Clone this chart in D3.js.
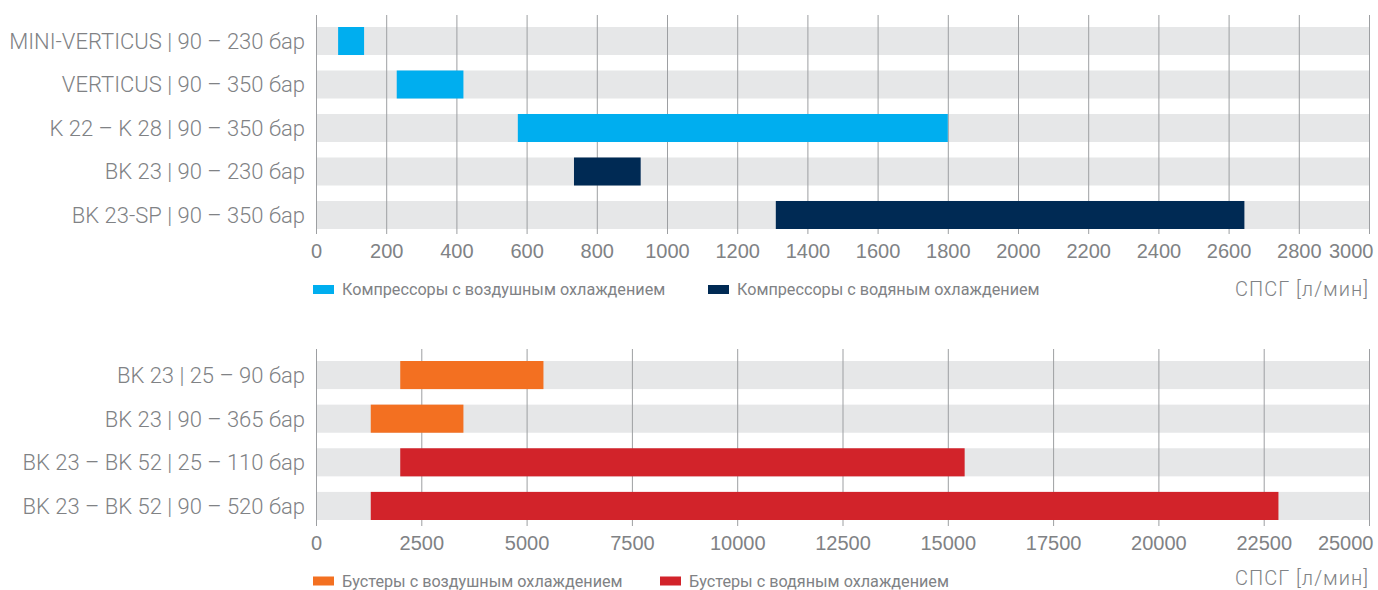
<!DOCTYPE html>
<html>
<head>
<meta charset="utf-8">
<script src="https://cdn.jsdelivr.net/npm/d3@7"></script>
<style>
  body { margin: 0; background: #fff; }
  svg { display: block; font-family: Roboto, "Open Sans", sans-serif; }
</style>
</head>
<body>
<script>
var width = 1378, height = 590;

// compressors (top panel)
var compCategories = ["MINI-VERTICUS | 90 – 230 бар", "VERTICUS | 90 – 350 бар", "K 22 – K 28 | 90 – 350 бар", "BK 23 | 90 – 230 бар", "BK 23-SP | 90 – 350 бар"];
var compStart = [63, 230, 575, 735, 1310];
var compEnd = [137, 420, 1800, 925, 2645];
var compType = ["air", "air", "air", "water", "water"];
var compTicks = d3.range(0, 3001, 200);
var compLegend = ["Компрессоры с воздушным охлаждением", "Компрессоры с водяным охлаждением"];

// boosters (bottom panel)
var boostCategories = ["BK 23 | 25 – 90 бар", "BK 23 | 90 – 365 бар", "BK 23 – BK 52 | 25 – 110 бар", "BK 23 – BK 52 | 90 – 520 бар"];
var boostStart = [2000, 1300, 2000, 1300];
var boostEnd = [5400, 3500, 15400, 22850];
var boostType = ["air", "air", "water", "water"];
var boostTicks = d3.range(0, 25001, 2500);
var boostLegend = ["Бустеры с воздушным охлаждением", "Бустеры с водяным охлаждением"];

var unitLabel = "СПСГ [л/мин]";

var svg = d3.select("body").append("svg")
    .attr("width", width)
    .attr("height", height);

var textGrey = "#808285";

function panel(o) {
  var x = d3.scaleLinear().domain([0, o.max]).range([316, 1369]);
  var y = d3.scaleBand().domain(o.categories).range(o.bandRange).paddingInner(0.356).paddingOuter(0);
  var g = svg.append("g");

  // grey background bands
  g.append("g").selectAll("rect")
    .data(o.categories)
    .join("rect")
      .attr("x", x(0))
      .attr("y", d => y(d))
      .attr("width", x(o.max) - x(0))
      .attr("height", y.bandwidth())
      .attr("fill", "#e6e7e8");

  // gridlines + tick labels
  var axis = g.append("g")
      .attr("transform", `translate(0,${o.axisY})`)
      .call(d3.axisBottom(x).tickValues(o.ticks).tickSize(-(o.axisY - o.gridTop)).tickPadding(10).tickFormat(d => d));
  axis.select(".domain").remove();
  axis.selectAll("line").attr("stroke", "#9d9fa2").attr("stroke-width", 1);
  axis.selectAll("text")
      .attr("fill", textGrey)
      .attr("font-size", 20)
      .attr("font-weight", 300);
  // last label sits inside the plot edge
  axis.selectAll("text").filter(d => d === o.max)
      .attr("text-anchor", "end")
      .attr("x", 4);

  // bars
  g.append("g").selectAll("rect")
    .data(o.categories)
    .join("rect")
      .attr("x", (d, i) => x(o.start[i]))
      .attr("y", d => y(d))
      .attr("width", (d, i) => x(o.end[i]) - x(o.start[i]))
      .attr("height", y.bandwidth())
      .attr("fill", (d, i) => o.colors[o.type[i]]);

  // category labels
  g.append("g").selectAll("text")
    .data(o.categories)
    .join("text")
      .attr("x", 305)
      .attr("y", d => y(d) + y.bandwidth() / 2)
      .attr("dy", "0.36em")
      .attr("text-anchor", "end")
      .attr("fill", textGrey)
      .attr("font-size", 22)
      .attr("font-weight", 300)
      .text(d => d);

  // legend
  var lg = g.append("g").attr("transform", `translate(0,${o.legendY})`);
  var keys = ["air", "water"];
  keys.forEach((k, i) => {
    var lx = o.legendX[i];
    lg.append("rect")
      .attr("x", lx).attr("y", -4.5)
      .attr("width", 21).attr("height", 9)
      .attr("fill", o.colors[k]);
    lg.append("text")
      .attr("x", lx + 29).attr("y", 0)
      .attr("dy", "0.36em")
      .attr("fill", textGrey)
      .attr("font-size", 16.2)
      .text(o.legend[i]);
  });

  lg.append("text")
    .attr("x", 1369).attr("y", o.unitDy)
    .attr("dy", "0.36em")
    .attr("text-anchor", "end")
    .attr("fill", textGrey)
    .attr("font-size", 20)
    .attr("font-weight", 300)
    .attr("letter-spacing", 1)
    .text(unitLabel);
}

panel({
  categories: compCategories, start: compStart, end: compEnd, type: compType,
  max: 3000, ticks: compTicks, legend: compLegend,
  colors: {air: "#00aeef", water: "#002a54"},
  bandRange: [27, 229], gridTop: 15, axisY: 234, legendY: 289.5, legendX: [313, 708], unitDy: -1
});

panel({
  categories: boostCategories, start: boostStart, end: boostEnd, type: boostType,
  max: 25000, ticks: boostTicks, legend: boostLegend,
  colors: {air: "#f37021", water: "#d2232a"},
  bandRange: [361, 520], gridTop: 349, axisY: 526, legendY: 581, legendX: [313, 660], unitDy: -3
});
</script>
</body>
</html>
